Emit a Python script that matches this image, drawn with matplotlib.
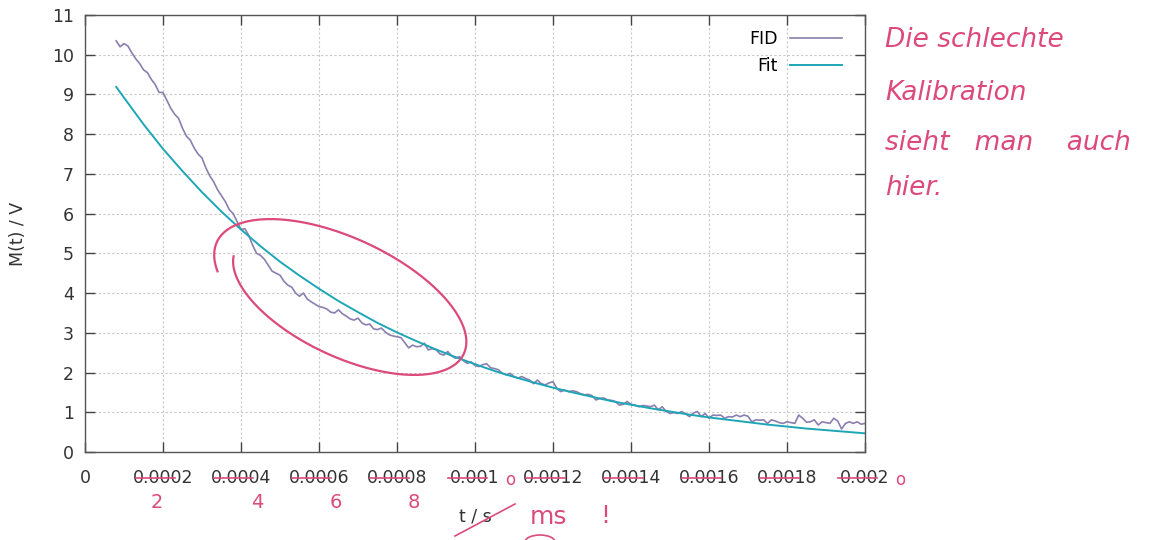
"""
FID-Messung mit exponentiellem Fit (gnuplot-Stil), inkl. handschriftlicher Korrekturen.
"""

import numpy as np
import matplotlib
matplotlib.use("Agg")
import matplotlib.pyplot as plt
from matplotlib.patches import Arc
from matplotlib.transforms import Affine2D, blended_transform_factory

# --- Daten ---
fid_t0 = 0.00008
fid_dt = 0.00001
fid_v = [
    10.35, 10.20, 10.28, 10.22, 10.05, 9.90, 9.78, 9.62, 9.55, 9.38,
    9.25, 9.05, 9.05, 8.85, 8.65, 8.50, 8.40, 8.15, 7.95, 7.85,
    7.65, 7.50, 7.40, 7.15, 6.95, 6.80, 6.60, 6.45, 6.30, 6.10,
    6.00, 5.80, 5.60,
    5.62, 5.45, 5.20, 5.00, 4.95, 4.85, 4.70, 4.55, 4.50, 4.45,
    4.30, 4.20, 4.15, 4.00, 3.92, 4.00, 3.85, 3.78, 3.72, 3.66,
    3.64, 3.60, 3.52, 3.50, 3.58, 3.48, 3.42, 3.35, 3.32, 3.37,
    3.25, 3.20, 3.22, 3.10, 3.08, 3.12, 3.02, 2.95, 2.92, 2.90,
    2.88, 2.75, 2.62, 2.69, 2.65, 2.66, 2.74, 2.57, 2.60, 2.58,
    2.47, 2.44, 2.53, 2.42, 2.36, 2.40, 2.30, 2.23, 2.27, 2.18,
    2.15, 2.20, 2.22, 2.12, 2.10, 2.07, 1.98, 1.94, 1.98, 1.90,
    1.86, 1.90, 1.85, 1.81, 1.72, 1.81, 1.72, 1.69, 1.74, 1.77,
    1.60, 1.52, 1.56, 1.52, 1.54, 1.52, 1.47, 1.44, 1.45, 1.42,
    1.31, 1.35, 1.36, 1.31, 1.30, 1.27, 1.18, 1.20, 1.27, 1.20,
    1.18,
    1.14, 1.17, 1.16, 1.14, 1.18, 1.06, 1.14, 1.02, 0.97, 0.99,
    0.97, 1.02, 0.96, 0.89, 0.98, 1.02, 0.89, 0.97, 0.85, 0.93,
    0.92, 0.93, 0.85, 0.89, 0.88, 0.93, 0.89, 0.93, 0.90, 0.76,
    0.81, 0.80, 0.81, 0.72, 0.81, 0.78, 0.74, 0.72, 0.76, 0.74,
    0.72, 0.93, 0.85, 0.75, 0.76, 0.81, 0.68, 0.76, 0.74, 0.72,
    0.85, 0.78, 0.58, 0.72, 0.76, 0.72, 0.76, 0.70, 0.72,
]

fit_t = [0.00008, 0.0001, 0.00015, 0.0002, 0.00025, 0.0003, 0.00035, 0.0004,
         0.00045, 0.0005, 0.00055, 0.0006, 0.00065, 0.0007, 0.00075, 0.0008,
         0.00085, 0.0009, 0.00095, 0.001, 0.00105, 0.0011, 0.00115, 0.0012,
         0.00125, 0.0013, 0.00135, 0.0014, 0.00145, 0.0015, 0.00155, 0.0016,
         0.00165, 0.0017, 0.00175, 0.0018, 0.00185, 0.0019, 0.00195, 0.002]
fit_v = [9.19, 8.92, 8.25, 7.63, 7.07, 6.54, 6.05, 5.60,
         5.18, 4.79, 4.44, 4.11, 3.80, 3.52, 3.25, 3.01,
         2.79, 2.58, 2.39, 2.21, 2.04, 1.89, 1.75, 1.62,
         1.50, 1.39, 1.28, 1.19, 1.10, 1.02, 0.94, 0.87,
         0.81, 0.75, 0.69, 0.64, 0.59, 0.55, 0.51, 0.47]

x_ticks = [0, 0.0002, 0.0004, 0.0006, 0.0008, 0.001, 0.0012, 0.0014, 0.0016, 0.0018, 0.002]
x_ticklabels = ["0", "0.0002", "0.0004", "0.0006", "0.0008", "0.001",
                "0.0012", "0.0014", "0.0016", "0.0018", "0.002"]
y_ticks = list(range(0, 12))

notes = ["Die schlechte", "Kalibration", "sieht   man    auch", "hier."]
ms_digits = ["2", "4", "6", "8"]

W, H = 1155, 540
fid_color = "#8a7fae"
fit_color = "#1ea6b6"
pen = "#dc4a7c"


def main():
    fig = plt.figure(figsize=(W / 100, H / 100), dpi=100)
    ax = fig.add_axes([85 / W, 1 - 452 / H, 780 / W, 437 / H])

    fid_t = fid_t0 + fid_dt * np.arange(len(fid_v))
    ax.plot(fid_t, fid_v, color=fid_color, linewidth=1.2, label="FID")
    ax.plot(fit_t, fit_v, color=fit_color, linewidth=1.4, label="Fit")

    ax.set_xlim(0, 0.002)
    ax.set_ylim(0, 11)
    ax.set_xticks(x_ticks)
    ax.set_xticklabels(x_ticklabels)
    ax.set_yticks(y_ticks)
    ax.tick_params(direction="in", length=7, width=1, colors="#444444",
                   labelsize=12.5, top=True, right=True)
    ax.tick_params(axis="x", pad=12, labelcolor="#333333")
    ax.tick_params(axis="y", pad=8, labelcolor="#333333")
    for s in ax.spines.values():
        s.set_color("#555555")
        s.set_linewidth(1)
    ax.grid(True, color="#c8c8c8", linestyle=(0, (2, 2)), linewidth=0.8)

    ax.set_ylabel("M(t) / V", fontsize=12.5, color="#333333", labelpad=18)
    ax.set_xlabel("t / s", fontsize=12.5, color="#333333", labelpad=15)

    ax.legend(loc="upper right", bbox_to_anchor=(0.9705, 0.965), frameon=False,
              markerfirst=False, fontsize=12.5, handlelength=3.0,
              handletextpad=0.7, labelspacing=0.5, borderpad=0, borderaxespad=0)

    # --- handschriftliche Anmerkungen ---
    pix = Affine2D().scale(1 / W, -1 / H).translate(0, 1) + fig.transFigure
    xpix = blended_transform_factory(ax.transData, pix)

    for i, line in enumerate(notes):
        fig.text(885, [40, 93, 143, 188][i], line, transform=pix, color=pen,
                 fontsize=19, style="italic", va="center", ha="left")

    for v in x_ticks[1:]:
        ax.plot([v - 0.00007, v + 0.00003], [478, 478], transform=xpix,
                color=pen, linewidth=1.2, clip_on=False)
    for v in [0.001, 0.002]:
        ax.text(v + 0.00009, 480, "o", transform=xpix, color=pen,
                fontsize=12, ha="center", va="center")
    for i, (v, d) in enumerate(zip(x_ticks[1:5], ms_digits)):
        off = -0.000015 if i == 0 else 0.000042
        ax.text(v + off, 503, d, transform=xpix,
                color=pen, fontsize=14, ha="center", va="center")

    ax.plot([455, 515], [536, 504], transform=pix, color=pen,
            linewidth=1.2, clip_on=False)
    fig.text(548, 517, "ms", transform=pix, color=pen, fontsize=18,
             ha="center", va="center")
    fig.text(605, 516, "!", transform=pix, color=pen, fontsize=18,
             ha="center", va="center")
    ax.add_patch(Arc((540, 542), 30, 14, theta1=180, theta2=360,
                     transform=pix, color=pen, linewidth=1.2, clip_on=False))

    # Kringel um den Bereich der Abweichung (leicht spiralig, wie von Hand)
    th = np.radians(np.linspace(172, 172 - 378, 200))
    grow = np.linspace(0.9, 1.06, th.size)
    al = np.radians(25)
    a, b = 134, 60
    lx = a * grow * np.cos(th)
    ly = b * grow * np.sin(th)
    ex = 345 + lx * np.cos(al) - ly * np.sin(al)
    ey = 300 + lx * np.sin(al) + ly * np.cos(al)
    ax.plot(ex, ey, transform=pix, color=pen, linewidth=1.6, clip_on=False)

    fig.savefig("out.png", dpi=100)


if __name__ == "__main__":
    main()
